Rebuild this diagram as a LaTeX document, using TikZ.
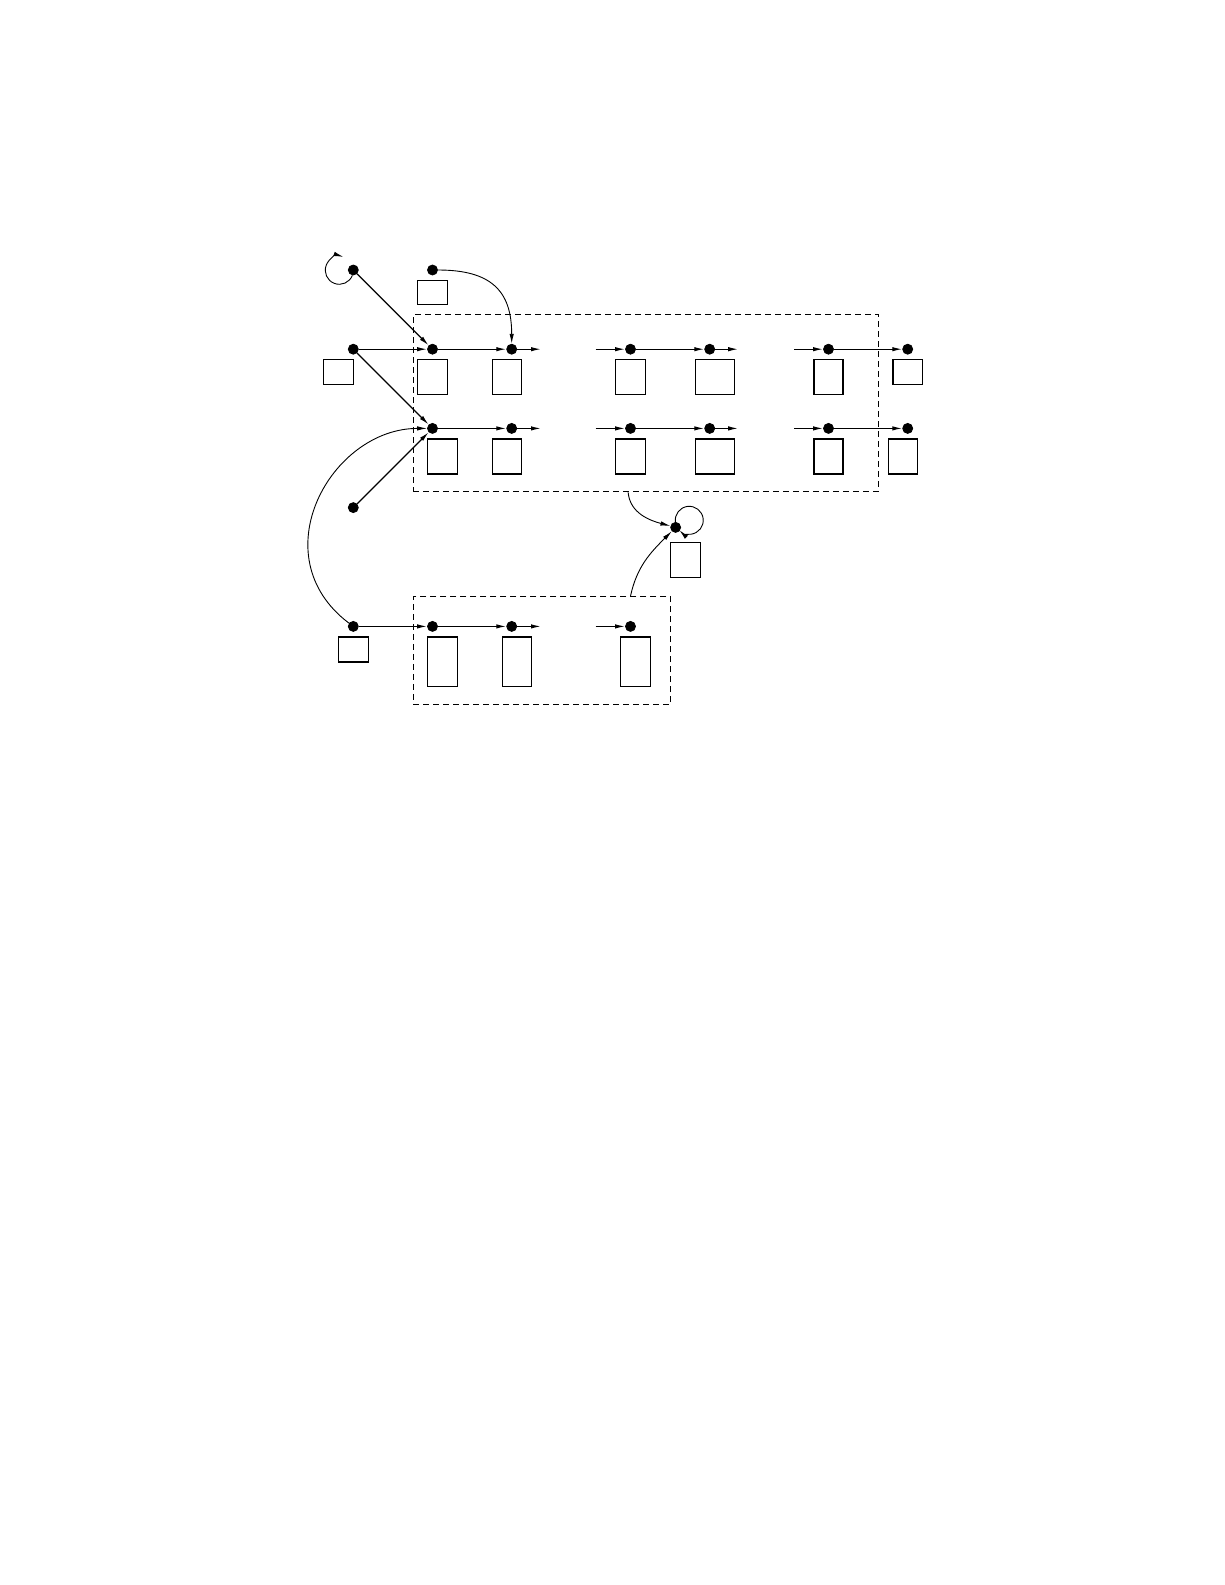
\documentclass[tikz,border=0pt]{standalone}
\usetikzlibrary{arrows.meta,fit}
\begin{document}
\begin{tikzpicture}[x=39.6pt,y=39.6pt]
  \tikzstyle{dot}=[draw,circle,fill=black,minimum size=5pt,inner sep=0pt]
  \tikzstyle{cell}=[draw,rectangle,line width=0.6pt,inner sep=0pt,anchor=north]
  \tikzstyle{link}=[-{Latex[length=5pt,width=2.2pt]},line width=0.6pt]
  \tikzstyle{thin link}=[link,line width=0.45pt]
  \tikzstyle{frame}=[draw,dash pattern=on 3pt off 2pt,line width=0.55pt,inner sep=0pt]

  \useasboundingbox (-176.65pt,135pt) rectangle (435.85pt,-657.5pt);

  % Define the vertices
  \foreach \n/\x/\y in {t0/0/0, t1/1/0, s1/0/-1, s2/0/-3, s3/0/-4.5,
      a1/1/-1, a2/2/-1, a3/3.5/-1, a4/4.5/-1, a5/6/-1, a6/7/-1,
      b1/1/-2, b2/2/-2, b3/3.5/-2, b4/4.5/-2, b5/6/-2, b6/7/-2,
      c1/1/-4.5, c2/2/-4.5, c3/3.5/-4.5, e/4.07/-3.25} {
    \node[dot] (\n) at (\x,\y) {};
  }

  % Define the boxes under the vertices
  \foreach \n/\dx/\dy/\w/\h in {t1/0/5/14.7/12, s1/-7.5/5/15/12.5, s3/0/5/15/12.5,
      a1/0/5/14.7/17.2, a2/-2.35/5/14.7/17.2, a3/0/5/14.8/17.2, a4/2.75/5/19.5/17.2,
      a5/0/5/14.5/17.2, a6/0/5/14.7/12.5,
      b1/5/5/15/17.5, b2/-2.35/5/14.7/17.5, b3/0/5/14.8/17.5, b4/2.75/5/19.5/17.5,
      b5/0/5/14.5/17.5, b6/-2.35/5/14.7/17.5,
      c1/5/5/15/24.6, c2/2.5/5/14.5/24.6, c3/2.5/5/15/24.6, e/5/7.3/15/17.5} {
    \node[cell,minimum width=\w pt,minimum height=\h pt] (box-\n) at ([shift={(\dx pt,-\dy pt)}]\n) {};
  }

  % Define the dashed frames
  \node[frame,fit={(0.76,-0.56) (6.63,-2.8)}] (upper) {};
  \node[frame,fit={(0.76,-4.125) (4.01,-5.49)}] (lower) {};
  \coordinate (u) at (3.47,0 |- upper.south);
  \coordinate (l) at (3.5,0 |- lower.north);

  % Define the loose ends of the rows
  \foreach \n/\x/\y in {ao2/2.37/-1, ai3/3.06/-1, ao4/4.86/-1, ai5/5.57/-1,
      bo2/2.37/-2, bi3/3.06/-2, bo4/4.86/-2, bi5/5.57/-2,
      co2/2.37/-4.5, ci3/3.06/-4.5} {
    \coordinate (\n) at (\x,\y);
  }

  % Draw the straight edges
  \foreach \a/\b in {s1/a1, a1/a2, a2/ao2, ai3/a3, a3/a4, a4/ao4, ai5/a5, a5/a6,
      b1/b2, b2/bo2, bi3/b3, b3/b4, b4/bo4, bi5/b5, b5/b6,
      s3/c1, c1/c2, c2/co2, ci3/c3, t0/a1, s1/b1, s2/b1} {
    \draw[link] (\a) -- (\b);
  }

  % Draw the curved edges and the loops
  \draw[thin link] (t1) to[out=0,in=90,looseness=1.3] (a2);
  \draw[thin link] (s3) .. controls +(143:1.48) and +(180:1.28) .. (b1);
  \draw[thin link] (u) to[out=-85,in=165] (e);
  \draw[thin link] (l) to[out=78,in=-135] (e);
  \draw[thin link] (t0.-100) arc[start angle=-21,end angle=-288,radius=7pt];
  \draw[thin link] (e.93) arc[start angle=187,end angle=-135,radius=7pt];
\end{tikzpicture}
\end{document}
